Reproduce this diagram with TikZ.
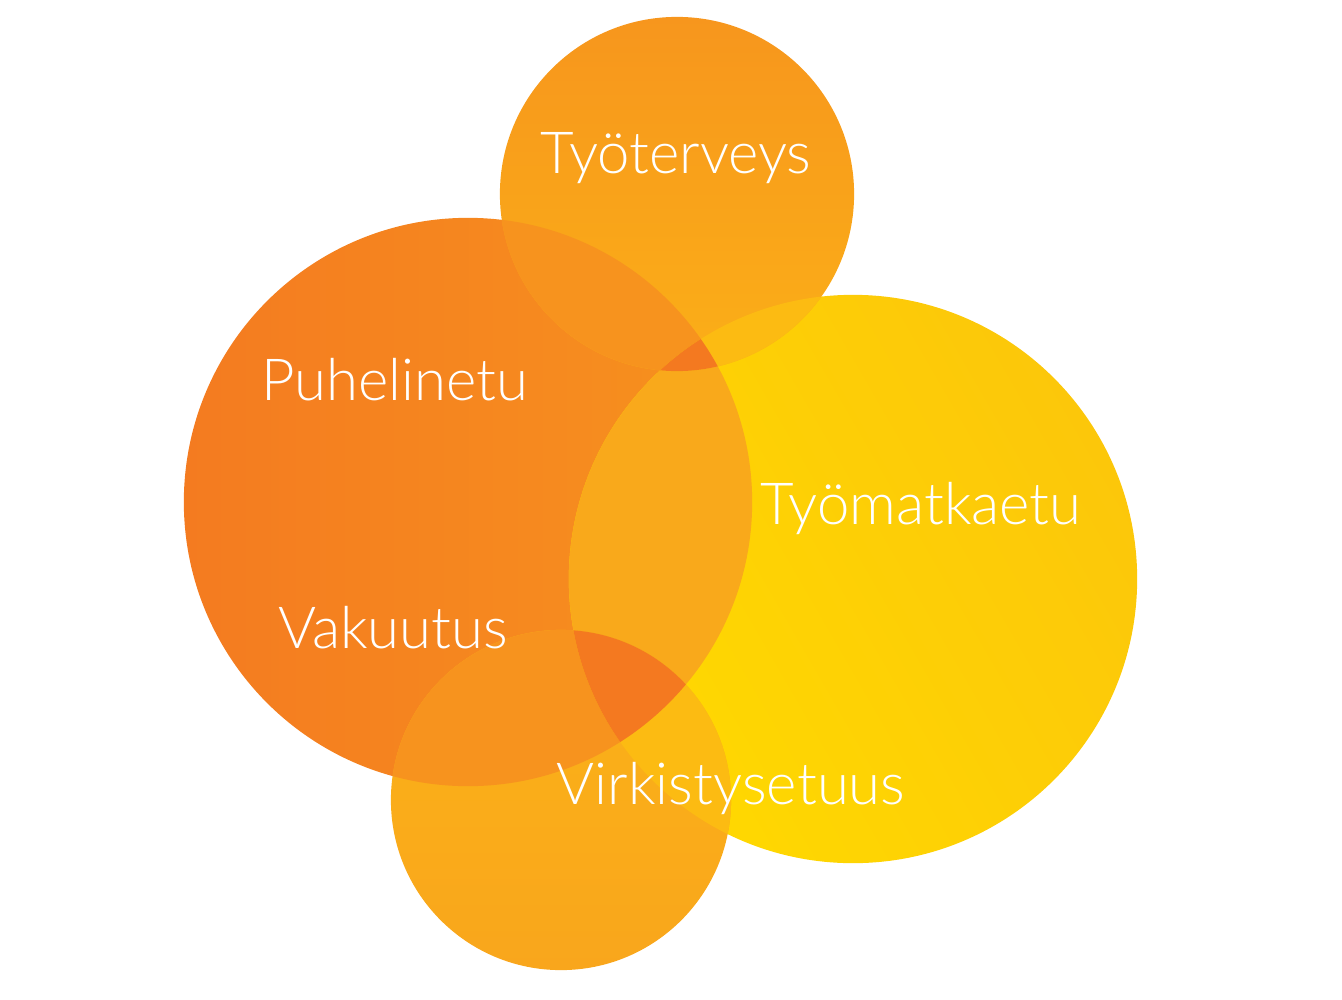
\documentclass[tikz,border=0pt]{standalone}
\usepackage{fontspec}
\setmainfont{Lato Light}
\definecolor{puhelin}{HTML}{F47B20}
\definecolor{puhelinb}{HTML}{F7921E}
\definecolor{matka}{HTML}{FFD900}
\definecolor{matkab}{HTML}{FCC70A}
\definecolor{terveys}{HTML}{F7961D}
\definecolor{terveysb}{HTML}{FBAF17}
\definecolor{virkistys}{HTML}{FBB317}
\definecolor{virkistysb}{HTML}{F9A61C}
\definecolor{mix}{HTML}{F9A91B}
\definecolor{mixdark}{HTML}{F47920}
\definecolor{mixlight}{HTML}{FCBB12}
\definecolor{mixorange}{HTML}{F7931E}
\tikzset{benefit/.style={text=white, inner sep=0pt, font=\fontsize{16.5}{19}\selectfont}}
\begin{document}
\begin{tikzpicture}[x=0.01cm, y=-0.01cm]
      \useasboundingbox (0,0) rectangle (1342,1000);
      \coordinate (top) at (677,194);
      \coordinate (left) at (468,502);
      \coordinate (right) at (853,579);
      \coordinate (bottom) at (561,800);
      \def\topc{(top) circle (1.77cm)}
      \def\leftc{(left) circle (2.84cm)}
      \def\rightc{(right) circle (2.84cm)}
      \def\bottomc{(bottom) circle (1.70cm)}
      % single circles
      \shade [left color=puhelin, right color=puhelinb] \leftc;
      \shade [left color=matka, right color=matkab, shading angle=120] \rightc;
      \shade [top color=terveys, bottom color=terveysb] \topc;
      \shade [top color=virkistys, bottom color=virkistysb] \bottomc;
      % overlaps of two
      \begin{scope}
        \clip \leftc;
        \fill [mixorange] \topc;
        \fill [mix] \rightc;
        \fill [mixorange] \bottomc;
      \end{scope}
      \begin{scope}
        \clip \rightc;
        \fill [mixlight] \topc;
        \fill [mixlight] \bottomc;
      \end{scope}
      % overlaps of three
      \begin{scope}
        \clip \leftc;
        \clip \rightc;
        \fill [mixdark] \topc;
        \fill [mixdark] \bottomc;
      \end{scope}
      \node (tyoterveys) [benefit] at (676,158) {Työterveys};
      \node (puhelinetu) [benefit] at (395,380) {Puhelinetu};
      \node (tyomatkaetu) [benefit] at (921,508) {Työmatkaetu};
      \node (vakuutus) [benefit] at (393,628) {Vakuutus};
      \node (virkistysetuus) [benefit] at (731,788) {Virkistysetuus};
\end{tikzpicture}
\end{document}
